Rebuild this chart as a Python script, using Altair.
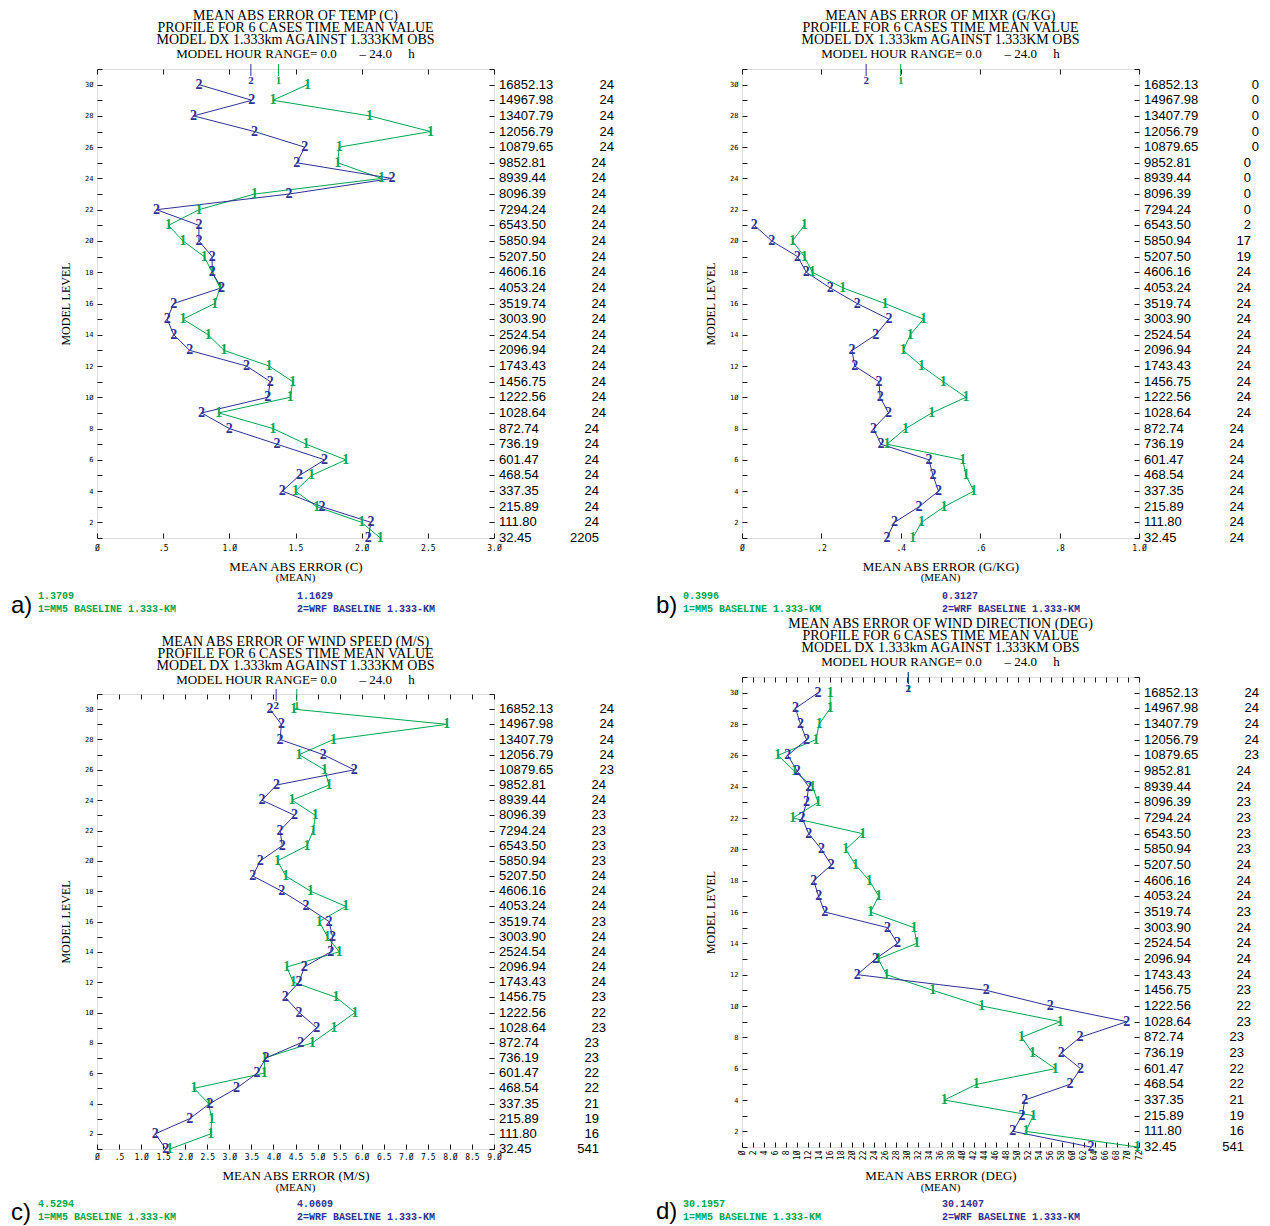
import altair as alt
import pandas as pd

GREEN = "#00A651"
BLUE = "#2E3192"
FRAME = "#1a1a1a"

LEVELS = list(range(30, 0, -1))
ALL_LEVELS = list(range(1, 32))
YLAB_LEVELS = list(range(2, 31, 2))
HEIGHTS = ["16852.13", "14967.98", "13407.79", "12056.79", "10879.65", "9852.81",
           "8939.44", "8096.39", "7294.24", "6543.50", "5850.94", "5207.50",
           "4606.16", "4053.24", "3519.74", "3003.90", "2524.54", "2096.94",
           "1743.43", "1456.75", "1222.56", "1028.64", "872.74", "736.19",
           "601.47", "468.54", "337.35", "215.89", "111.80", "32.45"]

SERIES_NAMES = ["1=MM5 BASELINE 1.333-KM", "2=WRF BASELINE 1.333-KM"]
SUB_LINES = ["PROFILE FOR 6 CASES TIME MEAN VALUE", "MODEL DX 1.333km AGAINST 1.333KM OBS"]
NB = "\u00a0"
HOUR_LINE = "MODEL HOUR RANGE= 0.0" + NB * 7 + "\u2013 24.0" + NB * 5 + "h"

# ---- a) temperature (levels 30 -> 1)
TEMP_MM5 = [1.59, 1.33, 2.06, 2.52, 1.83, 1.82, 2.15, 1.19, 0.77, 0.54, 0.65, 0.81, 0.87, 0.93, 0.89,
            0.65, 0.84, 0.96, 1.30, 1.48, 1.46, 0.92, 1.33, 1.58, 1.88, 1.62, 1.50, 1.66, 2.00, 2.14]
TEMP_WRF = [0.77, 1.17, 0.73, 1.19, 1.57, 1.51, 2.23, 1.45, 0.45, 0.77, 0.77, 0.87, 0.87, 0.94, 0.58,
            0.53, 0.58, 0.70, 1.13, 1.31, 1.29, 0.79, 1.00, 1.36, 1.72, 1.53, 1.40, 1.70, 2.07, 2.05]
TEMP_COUNTS = [24, 24, 24, 24, 24, 24, 24, 24, 24, 24, 24, 24, 24, 24, 24,
               24, 24, 24, 24, 24, 24, 24, 24, 24, 24, 24, 24, 24, 24, 2205]
TEMP_MEANS = [1.3709, 1.1629]
TEMP_TICKS = [0, 0.5, 1.0, 1.5, 2.0, 2.5, 3.0]

# ---- b) mixing ratio
MIXR_MM5 = [None, None, None, None, None, None, None, None, None,
            0.157, 0.127, 0.157, 0.177, 0.254, 0.360, 0.457, 0.424, 0.406, 0.452, 0.507, 0.564,
            0.478, 0.412, 0.365, 0.556, 0.564, 0.584, 0.509, 0.452, 0.430]
MIXR_WRF = [None, None, None, None, None, None, None, None, None,
            0.031, 0.075, 0.140, 0.162, 0.222, 0.290, 0.370, 0.337, 0.277, 0.284, 0.345, 0.348,
            0.369, 0.331, 0.350, 0.471, 0.481, 0.495, 0.446, 0.384, 0.365]
MIXR_COUNTS = [0, 0, 0, 0, 0, 0, 0, 0, 0, 2, 17, 19, 24, 24, 24,
               24, 24, 24, 24, 24, 24, 24, 24, 24, 24, 24, 24, 24, 24, 24]
MIXR_MEANS = [0.3996, 0.3127]
MIXR_TICKS = [0, 0.2, 0.4, 0.6, 0.8, 1.0]

# ---- c) wind speed
WSPD_MM5 = [4.46, 7.93, 5.36, 4.58, 5.16, 5.26, 4.42, 4.95, 4.90, 4.76, 4.09, 4.28, 4.84, 5.64, 5.04,
            5.22, 5.49, 4.30, 4.45, 5.42, 5.85, 5.37, 4.88, 3.80, 3.79, 2.20, 2.53, 2.60, 2.58, 1.65]
WSPD_WRF = [3.92, 4.18, 4.15, 5.13, 5.83, 4.07, 3.74, 4.48, 4.15, 4.20, 3.70, 3.53, 4.19, 4.74, 5.26,
            5.34, 5.30, 4.70, 4.58, 4.27, 4.58, 4.98, 4.62, 3.83, 3.63, 3.16, 2.56, 2.10, 1.32, 1.56]
WIND_COUNTS = [24, 24, 24, 24, 23, 24, 24, 23, 23, 23, 23, 24, 24, 24, 23,
               24, 24, 24, 24, 23, 22, 23, 23, 23, 22, 22, 21, 19, 16, 541]
WSPD_MEANS = [4.5294, 4.0609]
WSPD_TICKS = [0, 0.5, 1.0, 1.5, 2.0, 2.5, 3.0, 3.5, 4.0, 4.5, 5.0, 5.5, 6.0, 6.5, 7.0, 7.5, 8.0, 8.5, 9.0]

# ---- d) wind direction
WDIR_MM5 = [16.0, 16.0, 14.0, 13.4, 6.5, 9.5, 12.8, 13.8, 9.2, 21.9, 18.8, 20.6, 23.1, 24.8, 23.3,
            31.2, 31.7, 24.7, 26.2, 34.6, 43.5, 57.7, 50.7, 52.7, 56.8, 42.5, 36.7, 52.8, 51.5, 71.7]
WDIR_WRF = [13.8, 9.7, 10.6, 11.7, 8.3, 10.0, 12.1, 11.7, 10.9, 12.1, 14.4, 16.2, 13.0, 13.9, 15.0,
            26.4, 28.2, 24.2, 20.9, 44.3, 55.9, 69.8, 61.3, 57.9, 61.4, 59.5, 51.3, 50.8, 49.1, 63.3]
WDIR_MEANS = [30.1957, 30.1407]
WDIR_TICKS = [0, 2, 4, 6, 8, 10, 12, 14, 16, 18, 20, 22, 24, 26, 28, 30, 32, 34, 36,
              38, 40, 42, 44, 46, 48, 50, 52, 54, 56, 58, 60, 62, 64, 66, 68, 70, 72]

DEC_EXPR = ("datum.value == 0 ? '\u00d8' : (datum.value < 1 ? replace(format(datum.value, '.1f'), '0.', '.')"
            " : replace(format(datum.value, '.1f'), '0', '\u00d8'))")
INT_EXPR = "replace(format(datum.value, 'd'), '0', '\u00d8')"

W = 397
COLOR = alt.Color("series:N", scale=alt.Scale(domain=["1", "2"], range=[GREEN, BLUE]), legend=None)
DUMMY = pd.DataFrame({"d": [0]})


def long_df(mm5, wrf):
    rows = []
    for lev, a, b in zip(LEVELS, mm5, wrf):
        if a is not None:
            rows.append({"level": lev, "value": a, "series": "1"})
        if b is not None:
            rows.append({"level": lev, "value": b, "series": "2"})
    return pd.DataFrame(rows)


def panel(mm5, wrf, counts, means, ticks, domain, expr, angle, title1, xtitle, letter, H, o):
    df = long_df(mm5, wrf)
    xs = alt.Scale(domain=domain, nice=False, zero=False)
    ys = alt.Scale(domain=[1, 31], nice=False, zero=False)

    def tick_axis(orient, off, values):
        return alt.Axis(orient=orient, offset=off, values=values, labels=False, domain=False,
                        grid=False, ticks=True, tickSize=5, tickColor=FRAME, tickWidth=1, title=None)

    lines = alt.Chart(df).mark_line(strokeWidth=1).encode(
        x=alt.X("value:Q", scale=xs, axis=alt.Axis(
            values=ticks, labelExpr=expr, ticks=False, domain=False, grid=False,
            labelFont="DejaVu Sans Mono", labelFontSize=8, labelColor="black",
            labelPadding=o["lab_pad"], labelAngle=angle, labelFlush=False, labelOverlap=False,
            title=xtitle, titleFont="Liberation Serif", titleFontSize=13, titleFontWeight="normal",
            titleColor="black", titleY=o["title_y"], titleBaseline="middle")),
        y=alt.Y("level:Q", scale=ys, axis=alt.Axis(
            values=YLAB_LEVELS, labelExpr=INT_EXPR, ticks=False, domain=False, grid=False,
            labelFont="DejaVu Sans Mono", labelFontSize=7, labelColor="black", labelPadding=4,
            title="MODEL LEVEL", titleFont="Liberation Serif", titleFontSize=12,
            titleFontWeight="normal", titleColor="black", titleX=-32, titleY=H / 2,
            titleAngle=270, titleAlign="center", titleBaseline="middle")),
        color=COLOR,
        order=alt.Order("level:Q"),
    )
    marks = alt.Chart(df).mark_text(font="Liberation Serif", fontSize=14, fontWeight="bold",
                                    baseline="middle").encode(
        x=alt.X("value:Q", scale=xs, axis=tick_axis("top", -H, ticks)),
        y=alt.Y("level:Q", scale=ys, axis=tick_axis("right", -W, ALL_LEVELS)),
        text="series:N",
        color=COLOR,
    )
    mdf = pd.DataFrame({"series": ["1", "2"], "mean": means})
    mrule = alt.Chart(mdf).mark_rule(strokeWidth=1).encode(
        x=alt.X("mean:Q", scale=xs, axis=tick_axis("bottom", -H, ticks)),
        y=alt.value(-5), y2=alt.value(7), color=COLOR)
    mtext = alt.Chart(mdf).mark_text(font="Liberation Serif", fontSize=11, fontWeight="bold",
                                     baseline="middle").encode(
        x=alt.X("mean:Q", scale=xs, axis=None), y=alt.value(12), text="series:N", color=COLOR)

    rdf = pd.DataFrame({"level": LEVELS, "height": HEIGHTS, "count": [str(c) for c in counts]})
    hlab = alt.Chart(rdf).mark_text(align="left", baseline="middle", font="Liberation Sans",
                                    fontSize=13, color="black").encode(
        x=alt.value(W + 5),
        y=alt.Y("level:Q", scale=ys, axis=tick_axis("left", -W, ALL_LEVELS)),
        text="height:N")
    clabs = []
    for cond, dx in [("length(datum.height) >= 8", 120), ("length(datum.height) == 7", 112),
                     ("length(datum.height) <= 6", 105)]:
        clabs.append(alt.Chart(rdf).transform_filter(cond).mark_text(
            align="right", baseline="middle", font="Liberation Sans", fontSize=13, color="black").encode(
            x=alt.value(W + dx), y=alt.Y("level:Q", scale=ys, axis=None), text="count:N"))

    def stext(text, x, y, **kw):
        return alt.Chart(DUMMY).mark_text(text=text, **kw).encode(x=alt.value(x), y=alt.value(y))

    title_kw = dict(font="Liberation Serif", fontSize=14, color="black", baseline="middle", align="center")
    legend_kw = dict(align="left", baseline="middle", font="Liberation Mono", fontSize=10, fontWeight="bold")
    tl = o["tlines"]
    extras = [
        stext(title1, W / 2, tl[0], **title_kw),
        stext(SUB_LINES[0], W / 2, tl[1], **title_kw),
        stext(SUB_LINES[1], W / 2, tl[2], **title_kw),
        stext(HOUR_LINE, W / 2, tl[3], font="Liberation Serif", fontSize=13, color="black",
              baseline="middle", align="center"),
        stext("(MEAN)", W / 2, H + o["mean_y"], font="Liberation Serif", fontSize=11, color="black",
              baseline="middle"),
        stext(f"{means[0]:.4f}", -59, H + o["leg1"], color=GREEN, **legend_kw),
        stext(SERIES_NAMES[0], -59, H + o["leg2"], color=GREEN, **legend_kw),
        stext(f"{means[1]:.4f}", 200, H + o["leg1"], color=BLUE, **legend_kw),
        stext(SERIES_NAMES[1], 200, H + o["leg2"], color=BLUE, **legend_kw),
        stext(letter, -86, H + o["letter"], font="Liberation Sans", fontSize=24, color="black",
              align="left", baseline="middle"),
        stext(" ", 0, -o["spacer"], fontSize=1, opacity=0, baseline="top"),
    ]

    ch = alt.layer(lines, marks, mrule, mtext, hlab, *clabs, *extras).resolve_axis(
        x="independent", y="independent")
    return ch.properties(width=W, height=H)


OT = dict(lab_pad=6, title_y=28, mean_y=40, leg1=58, leg2=71, letter=68, spacer=60,
          tlines=[-53, -41, -29, -15])
OC = dict(lab_pad=4, title_y=26, mean_y=39, leg1=55, leg2=68, letter=64, spacer=77,
          tlines=[-52, -40, -28, -14])
OD = dict(lab_pad=3, title_y=28, mean_y=41, leg1=57, leg2=70, letter=65, spacer=60,
          tlines=[-53, -41, -29, -15])

pa = panel(TEMP_MM5, TEMP_WRF, TEMP_COUNTS, TEMP_MEANS, TEMP_TICKS, [0, 3], DEC_EXPR, 0,
           "MEAN ABS ERROR OF TEMP (C)", "MEAN ABS ERROR (C)", "a)", 469, OT)
pb = panel(MIXR_MM5, MIXR_WRF, MIXR_COUNTS, MIXR_MEANS, MIXR_TICKS, [0, 1], DEC_EXPR, 0,
           "MEAN ABS ERROR OF MIXR (G/KG)", "MEAN ABS ERROR (G/KG)", "b)", 469, OT)
pc = panel(WSPD_MM5, WSPD_WRF, WIND_COUNTS, WSPD_MEANS, WSPD_TICKS, [0, 9], DEC_EXPR, 0,
           "MEAN ABS ERROR OF WIND SPEED (M/S)", "MEAN ABS ERROR (M/S)", "c)", 455, OC)
pd_ = panel(WDIR_MM5, WDIR_WRF, WIND_COUNTS, WDIR_MEANS, WDIR_TICKS, [0, 72], INT_EXPR, 270,
            "MEAN ABS ERROR OF WIND DIRECTION (DEG)", "MEAN ABS ERROR (DEG)", "d)", 470, OD)

chart = alt.concat(
    pa, pb, pc, pd_, columns=2, align="none", spacing={"row": -3, "column": 40},
).properties(
    padding={"left": 2, "top": 0, "right": 0, "bottom": 0}
).configure_view(stroke=FRAME, strokeWidth=1.5).configure(background="white")

chart.save("out.html", embed_options={"renderer": "svg", "actions": False})
